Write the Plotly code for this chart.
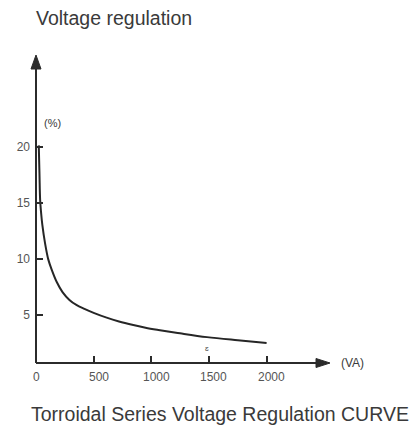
import plotly.graph_objects as go

# Load (VA) vs. voltage regulation (%) for the toroidal series
load_va = [24, 30, 36, 45, 55, 78, 107, 140, 180, 230, 290, 350, 420, 500, 613, 720,
           844, 950, 1061, 1249, 1483, 1750, 2000]
regulation_pct = [20.1, 17.6, 15.2, 14.0, 13.0, 11.4, 9.9, 8.9, 7.9, 7.0, 6.3, 5.85, 5.5,
                  5.15, 4.72, 4.38, 4.06, 3.82, 3.62, 3.32, 2.98, 2.7, 2.46]

x_ticks = [0, 500, 1000, 1500, 2000]
x_tick_labels = ["0", "500", "1000", "1500", "2000"]
y_ticks = [5, 10, 15, 20]
y_tick_labels = ["5", "10", "15", "20"]

AXIS = "#2b2b2b"
TEXT = "#3a3a3a"
TICKTEXT = "#555555"
FONT = "Liberation Sans, Arial, sans-serif"

fig = go.Figure()
fig.add_trace(go.Scatter(
    x=load_va, y=regulation_pct, mode="lines",
    line=dict(color="#262626", width=2, shape="spline", smoothing=1.0),
    hoverinfo="skip", showlegend=False,
))

axis_common = dict(
    showgrid=False, zeroline=False, showline=False,
    ticks="inside", ticklen=7, tickwidth=1.5, tickcolor=AXIS,
    tickfont=dict(family=FONT, size=12, color=TICKTEXT),
)

# x tick labels sit slightly right of their ticks (except the origin)
x_label_annotations = [
    dict(text=lab, x=val, xref="x", y=0, yref="paper", xanchor="center", yanchor="top",
         xshift=0 if val == 0 else 5, yshift=-5, showarrow=False,
         font=dict(family=FONT, size=12, color=TICKTEXT))
    for val, lab in zip(x_ticks, x_tick_labels)
]

fig.update_layout(
    width=414, height=425,
    margin=dict(l=36, r=84, t=55, b=62),
    paper_bgcolor="white", plot_bgcolor="white",
    xaxis=dict(range=[0, 2550], tickvals=x_ticks[1:], showticklabels=False, **axis_common),
    yaxis=dict(range=[0.67, 28.17], tickvals=y_ticks, ticktext=y_tick_labels,
               ticklabelstandoff=5, **axis_common),
    shapes=[
        # axis lines
        dict(type="line", xref="paper", yref="paper", x0=0, y0=0, x1=0, y1=0.97,
             line=dict(color=AXIS, width=2)),
        dict(type="line", xref="paper", yref="paper", x0=0, y0=0, x1=0.97, y1=0,
             line=dict(color=AXIS, width=2)),
        # arrowheads
        dict(type="path", xref="paper", yref="paper", xsizemode="pixel", ysizemode="pixel",
             xanchor=0, yanchor=1, path="M 0 0 L -5 -14 L 5 -14 Z",
             fillcolor=AXIS, line=dict(color=AXIS, width=1)),
        dict(type="path", xref="paper", yref="paper", xsizemode="pixel", ysizemode="pixel",
             xanchor=1, yanchor=0, path="M 0 0 L -14 4.5 L -14 -4.5 Z",
             fillcolor=AXIS, line=dict(color=AXIS, width=1)),
    ],
    annotations=x_label_annotations + [
        dict(text="Voltage regulation", xref="paper", yref="paper",
             x=-0.006, y=1.12, xanchor="left", yanchor="middle", showarrow=False,
             font=dict(family=FONT, size=19.5, color=TEXT)),
        dict(text="(%)", xref="paper", yref="paper",
             x=0.02, y=0.779, xanchor="left", yanchor="middle", showarrow=False,
             font=dict(family=FONT, size=11, color=TEXT)),
        dict(text="(VA)", xref="paper", yref="paper",
             x=1.03, y=0.0, xanchor="left", yanchor="middle", showarrow=False,
             font=dict(family=FONT, size=12, color=TEXT)),
        dict(text="ɛ", x=1483, y=2.0, xref="x", yref="y", showarrow=False,
             font=dict(family=FONT, size=8, color="#444444")),
        dict(text="Torroidal Series Voltage Regulation CURVE", xref="paper", yref="paper",
             x=(220 - 36) / 294, y=(363 - 414) / 308, xanchor="center", yanchor="middle",
             showarrow=False, font=dict(family=FONT, size=19.5, color=TEXT)),
    ],
)

fig.write_html("out.html")
